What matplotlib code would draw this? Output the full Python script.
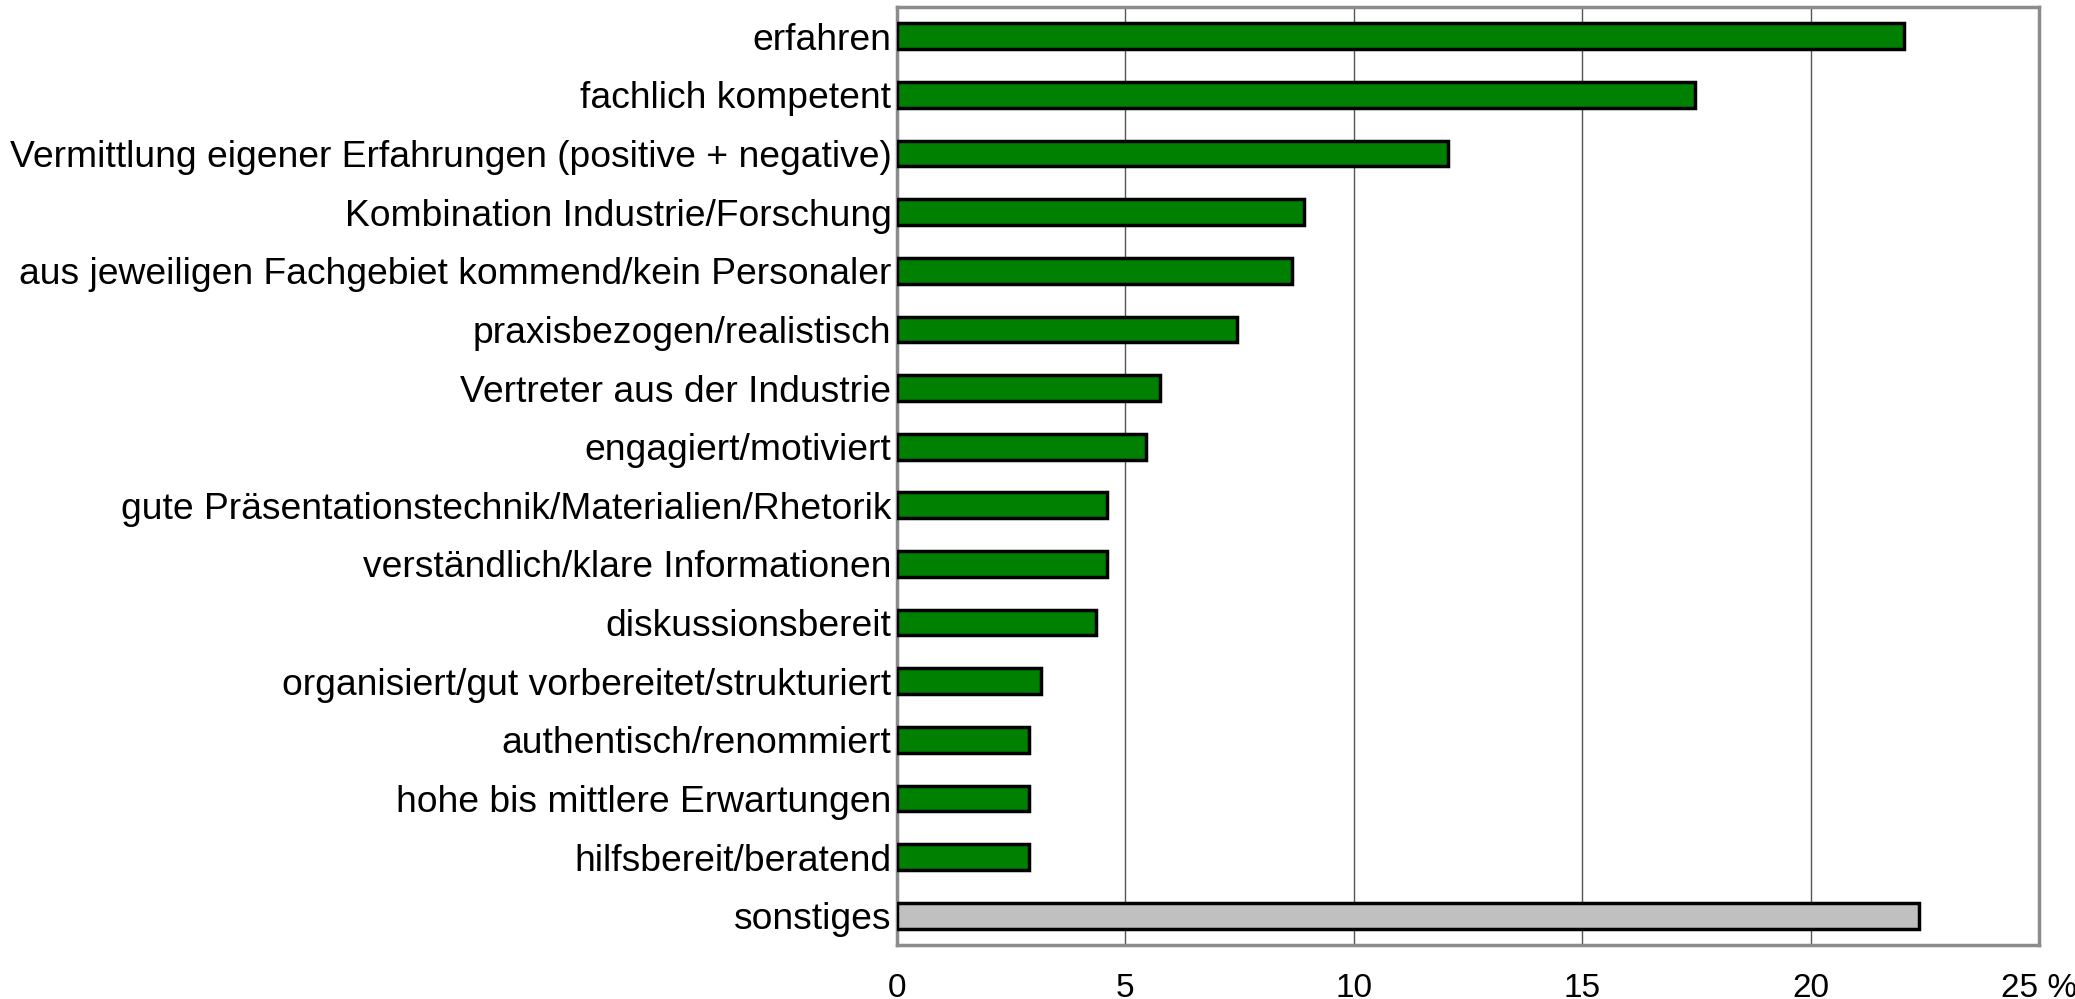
import matplotlib
matplotlib.use("Agg")
import matplotlib.pyplot as plt

# Data (percent), top to bottom as in the chart
labels = [
    "erfahren",
    "fachlich kompetent",
    "Vermittlung eigener Erfahrungen (positive + negative)",
    "Kombination Industrie/Forschung",
    "aus jeweiligen Fachgebiet kommend/kein Personaler",
    "praxisbezogen/realistisch",
    "Vertreter aus der Industrie",
    "engagiert/motiviert",
    "gute Präsentationstechnik/Materialien/Rhetorik",
    "verständlich/klare Informationen",
    "diskussionsbereit",
    "organisiert/gut vorbereitet/strukturiert",
    "authentisch/renommiert",
    "hohe bis mittlere Erwartungen",
    "hilfsbereit/beratend",
    "sonstiges",
]
values = [22.05, 17.46, 12.05, 8.91, 8.65, 7.45, 5.75, 5.46, 4.6, 4.6, 4.35, 3.15, 2.88, 2.88, 2.88, 22.37]
colors = ["#008000"] * 15 + ["#c0c0c0"]

xticks = [0, 5, 10, 15, 20, 25]
xticklabels = ["0", "5", "10", "15", "20", "25 %"]

plt.rcParams["font.family"] = ["Liberation Sans", "DejaVu Sans"]

fig = plt.figure(figsize=(20.75, 9.99), dpi=100)
ax = fig.add_axes([0.4323, 0.054, 0.5504, 0.939])

pos = list(range(len(labels)))
ax.barh(pos, values, height=0.44, color=colors, edgecolor="black", linewidth=2.5, zorder=3)

ax.set_ylim(len(labels) - 0.5, -0.5)
ax.set_xlim(0, 25)
ax.set_yticks(pos)
ax.set_yticklabels(labels, fontsize=26.8)
ax.set_xticks(xticks)
ax.set_xticklabels(xticklabels, fontsize=24)
ax.tick_params(axis="both", length=0)
ax.tick_params(axis="y", pad=4)
ax.tick_params(axis="x", pad=20)

ax.grid(axis="x", color="#555555", linewidth=1.0, zorder=0)
for s in ax.spines.values():
    s.set_color("#8c8c8c")
    s.set_linewidth(2.5)

fig.savefig("out.png", dpi=100)
